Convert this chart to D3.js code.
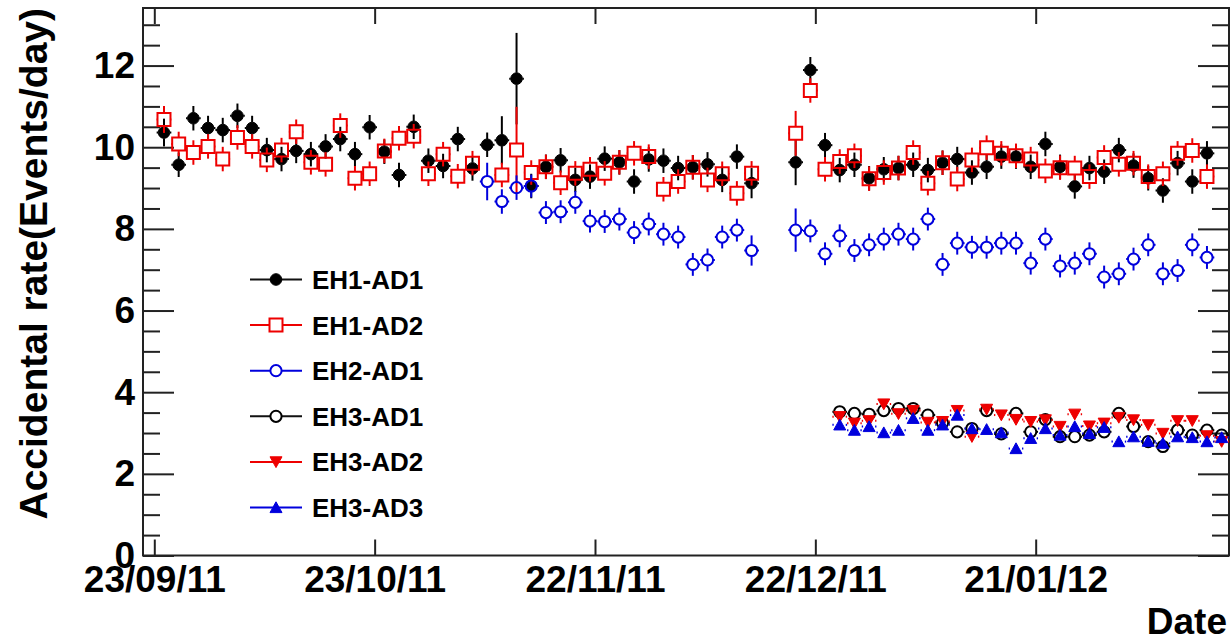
<!DOCTYPE html>
<html><head><meta charset="utf-8">
<script src="https://cdn.jsdelivr.net/npm/d3@7"></script>
<style>
html,body{margin:0;padding:0;background:#fff;}
svg{display:block;font-family:"Liberation Sans",Arial,Helvetica,sans-serif;font-weight:bold;}
</style></head><body>
<svg id="c" width="1232" height="642"></svg>
<script>
// ---------------- data ----------------
const xTickLabels = ["23/09/11","23/10/11","22/11/11","22/12/11","21/01/12"];
const yTickLabels = ["0","2","4","6","8","10","12"];
const seriesNames = ["EH1-AD1","EH1-AD2","EH2-AD1","EH3-AD1","EH3-AD2","EH3-AD3"];
const firstBinCentre = "2011-09-24T07:40Z"; // 2-day bins
const binDays = 2;

const eh1ad1 = [10.36,9.57,10.71,10.47,10.42,10.77,10.47,9.93,9.71,9.91,
  9.83,10.02,10.2,9.83,10.49,9.89,9.32,10.5,9.67,9.54,
  10.2,9.48,10.06,10.17,11.68,9.05,9.52,9.68,9.2,9.28,
  9.72,9.63,9.16,9.7,9.67,9.49,9.51,9.58,9.2,9.77,
  9.12,null,null,9.63,11.89,10.05,9.44,9.57,9.24,9.46,
  9.49,9.57,9.44,9.62,9.71,9.38,9.52,9.77,9.77,9.52,
  10.08,9.52,9.04,9.49,9.4,9.93,9.55,9.24,8.94,9.61,
  9.16,9.85];
const eh1ad1Err = [0.34,0.3,0.3,0.3,0.3,0.3,0.3,0.3,0.3,0.3,
  0.3,0.3,0.3,0.3,0.3,0.3,0.3,0.3,0.3,0.3,
  0.3,0.3,0.3,0.59,1.12,0.3,0.3,0.3,0.3,0.3,
  0.3,0.3,0.3,0.3,0.3,0.3,0.3,0.3,0.3,0.3,
  0.37,0,0,0.56,0.32,0.3,0.3,0.3,0.3,0.3,
  0.3,0.3,0.3,0.3,0.3,0.3,0.3,0.3,0.3,0.3,
  0.3,0.3,0.3,0.3,0.3,0.3,0.3,0.3,0.3,0.3,
  0.3,0.3];
const eh1ad2 = [10.68,10.08,9.87,10.02,9.71,10.24,10.02,9.69,9.93,10.38,
  9.63,9.58,10.53,9.24,9.35,9.91,10.22,10.27,9.35,9.83,
  9.29,9.61,null,9.32,9.93,9.38,9.52,9.13,9.36,9.46,
  9.36,9.63,9.85,9.77,8.97,9.16,9.51,9.2,9.35,8.87,
  9.36,null,null,10.34,11.39,9.46,9.65,9.79,9.23,9.38,
  9.49,9.87,9.12,9.62,9.22,9.69,9.99,9.85,9.79,9.71,
  9.42,9.5,9.49,9.28,9.75,9.58,9.61,9.28,9.35,9.85,
  9.92,9.28];
const eh1ad2Err = [0.33,0.3,0.3,0.3,0.3,0.3,0.3,0.3,0.3,0.3,
  0.3,0.3,0.3,0.3,0.3,0.3,0.3,0.3,0.3,0.3,
  0.3,0.3,0,0.3,1.06,0.3,0.3,0.3,0.3,0.3,
  0.3,0.3,0.3,0.3,0.3,0.3,0.3,0.3,0.3,0.3,
  0.3,0,0,0.55,0.3,0.3,0.3,0.3,0.3,0.3,
  0.3,0.3,0.3,0.3,0.3,0.3,0.3,0.3,0.3,0.3,
  0.3,0.3,0.3,0.3,0.3,0.3,0.3,0.3,0.3,0.3,
  0.3,0.3];
const eh2FirstBin = 22;
const eh2ad1 = [9.16,8.67,9.01,9.05,8.4,8.42,8.65,8.19,8.18,8.24,
  7.91,8.12,7.87,7.8,7.13,7.24,7.8,7.97,7.47,null,
  null,7.97,7.95,7.39,7.83,7.47,7.61,7.75,7.87,7.75,
  8.24,7.13,7.65,7.55,7.55,7.65,7.65,7.16,7.75,7.09,
  7.16,7.39,6.82,6.9,7.26,7.61,6.9,6.98,7.61,7.3];
const eh2ad1Err = [0.46,0.3,0.3,0.28,0.28,0.28,0.28,0.28,0.28,0.28,
  0.28,0.28,0.28,0.28,0.28,0.28,0.28,0.28,0.37,0,
  0,0.53,0.28,0.28,0.28,0.28,0.28,0.28,0.28,0.28,
  0.28,0.28,0.28,0.28,0.28,0.28,0.28,0.28,0.28,0.28,
  0.28,0.28,0.28,0.28,0.28,0.28,0.28,0.28,0.28,0.28];
const eh3FirstBin = 46;
const eh3ad1 = [3.52,3.48,3.46,3.55,3.6,3.6,3.44,3.25,3.03,3.11,
  3.55,2.98,3.48,3.03,3.33,2.91,2.91,2.95,3.03,3.48,
  3.16,2.79,2.67,3.07,2.95,3.07,2.95];
const eh3ad2 = [3.4,3.24,3.3,3.71,3.47,3.55,3.26,3.28,3.55,2.91,
  3.58,3.44,3.33,3.28,3.32,3.16,3.46,3.17,3.24,3.38,
  3.32,3.2,2.99,3.3,3.3,2.93,2.79];
const eh3ad3 = [3.2,3.07,3.16,3.01,3.07,3.36,3.07,3.2,3.44,3.11,
  3.09,3.01,2.62,2.87,3.11,2.95,3.16,2.99,3.14,2.79,
  2.91,2.8,2.75,2.91,2.89,2.79,2.89];
const eh3Err = 0.12;

// ---------------- layout ----------------
const svg = d3.select("#c");
const X0 = 143, X1 = 1229, Y0 = 555.5, Y1 = 8;
const parseTick = d3.utcParse("%d/%m/%y");
const tickDates = xTickLabels.map(parseTick);
const x = d3.scaleUtc()
  .domain([new Date(Date.UTC(2011,8,21,11,5)), new Date(Date.UTC(2012,1,16,7,40))])
  .range([X0, X1]);
const y = d3.scaleLinear().domain([0, 13.41]).range([Y0, Y1]);
const firstDate = new Date(firstBinCentre);
const binDate = i => d3.utcDay.offset(firstDate, binDays * i);

const AX = "#222";
// axes
const majorY = yTickLabels.map(Number);
const minorY = d3.range(0, 13.01, 0.5).filter(v => !majorY.includes(v));
function styleAxis(g){
  g.select(".domain").remove();
  g.selectAll("line").attr("stroke", AX).attr("stroke-width", 2);
  g.selectAll("text").attr("fill", "#000").attr("font-size", 37).attr("font-weight","bold")
    .attr("font-family", '"Liberation Sans",Arial,sans-serif');
}
svg.append("g").attr("transform", `translate(${X0},0)`)
  .call(d3.axisLeft(y).tickValues(majorY).tickFormat((d,i)=>yTickLabels[i]).tickSizeInner(-31).tickSizeOuter(0).tickPadding(8))
  .call(styleAxis);
svg.append("g").attr("transform", `translate(${X0},0)`)
  .call(d3.axisLeft(y).tickValues(minorY).tickFormat("").tickSizeInner(-17).tickSizeOuter(0))
  .call(styleAxis);
svg.append("g").attr("transform", `translate(${X1},0)`)
  .call(d3.axisRight(y).tickValues(majorY).tickFormat("").tickSizeInner(-31).tickSizeOuter(0))
  .call(styleAxis);
svg.append("g").attr("transform", `translate(${X1},0)`)
  .call(d3.axisRight(y).tickValues(minorY).tickFormat("").tickSizeInner(-17).tickSizeOuter(0))
  .call(styleAxis);
svg.append("g").attr("transform", `translate(0,${Y0})`)
  .call(d3.axisBottom(x).tickValues(tickDates).tickFormat((d,i)=>xTickLabels[i]).tickSizeInner(-16).tickSizeOuter(0).tickPadding(10))
  .call(styleAxis);
svg.append("g").attr("transform", `translate(0,${Y1})`)
  .call(d3.axisTop(x).tickValues(tickDates).tickFormat("").tickSizeInner(-16).tickSizeOuter(0))
  .call(styleAxis);

// frame
svg.append("rect").attr("x", X0).attr("y", Y1).attr("width", X1 - X0).attr("height", Y0 - Y1)
  .attr("fill", "none").attr("stroke", AX).attr("stroke-width", 2);

// titles
svg.append("text").attr("transform", `translate(47,8) rotate(-90)`)
  .attr("text-anchor", "end").attr("font-size", 39).attr("fill", "#000")
  .text("Accidental rate(Events/day)");
svg.append("text").attr("x", 1227).attr("y", 634).attr("text-anchor", "end")
  .attr("font-size", 37).attr("fill", "#000").text("Date");

// markers
const RED = "#ee0000", BLUE = "#0000dd", BLACK = "#000";
const markers = {
  fcircle: {r: 5.8, path: r => `M${-r},0a${r},${r} 0 1,0 ${2*r},0a${r},${r} 0 1,0 ${-2*r},0Z`, fill: true},
  ocircle: {r: 5.6, path: r => `M${-r},0a${r},${r} 0 1,0 ${2*r},0a${r},${r} 0 1,0 ${-2*r},0Z`, fill: false},
  osquare: {r: 6.5, path: r => `M${-r},${-r}H${r}V${r}H${-r}Z`, fill: false},
  tdown:   {r: 6, path: r => `M${-r},${-r*0.85}H${r}L0,${r*0.95}Z`, fill: true},
  tup:     {r: 6, path: r => `M${-r},${r*0.85}H${r}L0,${-r*0.95}Z`, fill: true}
};

const allSeries = [
  {name: seriesNames[0], vals: eh1ad1, errs: eh1ad1Err, first: 0, color: BLACK, m: "fcircle", dash: null},
  {name: seriesNames[1], vals: eh1ad2, errs: eh1ad2Err, first: 0, color: RED, m: "osquare", dash: null},
  {name: seriesNames[2], vals: eh2ad1, errs: eh2ad1Err, first: eh2FirstBin, color: BLUE, m: "ocircle", dash: null},
  {name: seriesNames[3], vals: eh3ad1, errs: null, first: eh3FirstBin, color: BLACK, m: "ocircle", dash: "3,2"},
  {name: seriesNames[4], vals: eh3ad2, errs: null, first: eh3FirstBin, color: RED, m: "tdown", dash: "3,2"},
  {name: seriesNames[5], vals: eh3ad3, errs: null, first: eh3FirstBin, color: BLUE, m: "tup", dash: "3,2"}
];

allSeries.forEach(s => {
  const mk = markers[s.m];
  const pts = s.vals.map((v, i) => ({v, e: s.errs ? s.errs[i] : eh3Err, d: binDate(s.first + i)}))
    .filter(p => p.v != null);
  const g = svg.append("g");
  pts.forEach(p => {
    const cx = x(p.d), cy = y(p.v), r = mk.r;
    const xl = x(d3.utcHour.offset(p.d, -24)), xr = x(d3.utcHour.offset(p.d, 24));
    const yt = y(p.v + p.e), yb = y(p.v - p.e);
    const segs = [];
    if (cy - r > yt) segs.push([cx, cy - r, cx, yt]);
    if (cy + r < yb) segs.push([cx, cy + r, cx, yb]);
    segs.forEach(sg => g.append("line").attr("x1", sg[0]).attr("y1", sg[1]).attr("x2", sg[2]).attr("y2", sg[3])
      .attr("stroke", s.color).attr("stroke-width", 2));
    [[cx - r, xl], [cx + r, xr]].forEach(h => {
      if (Math.abs(h[1] - h[0]) > 0.5)
        g.append("line").attr("x1", h[0]).attr("y1", cy).attr("x2", h[1]).attr("y2", cy)
          .attr("stroke", s.color).attr("stroke-width", 2).attr("stroke-dasharray", s.dash);
    });
    g.append("path").attr("transform", `translate(${cx},${cy})`).attr("d", mk.path(r))
      .attr("fill", mk.fill ? s.color : "none").attr("stroke", s.color).attr("stroke-width", mk.fill ? 1 : 2);
  });
});

// legend
const legY0 = 279.5, legDy = 45.6;
allSeries.forEach((s, i) => {
  const mk = markers[s.m];
  const ly = legY0 + i * legDy;
  const g = svg.append("g");
  g.append("line").attr("x1", 250).attr("x2", 302).attr("y1", ly).attr("y2", ly)
    .attr("stroke", s.color === BLACK ? "#111" : s.color).attr("stroke-width", 2);
  g.append("path").attr("transform", `translate(276,${ly})`).attr("d", mk.path(mk.r))
    .attr("fill", mk.fill ? s.color : "#fff").attr("stroke", s.color).attr("stroke-width", mk.fill ? 1 : 2);
  g.append("text").attr("x", 312).attr("y", ly + 9.5).attr("font-size", 26).attr("fill", "#000").text(s.name);
});
</script>
</body></html>
